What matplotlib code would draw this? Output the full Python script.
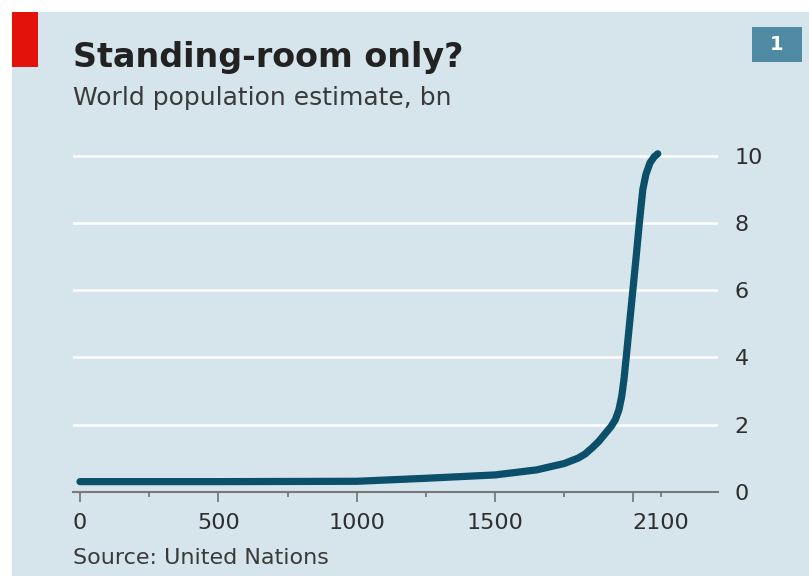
import matplotlib
matplotlib.use("Agg")
import matplotlib.pyplot as plt
from matplotlib.patches import Rectangle
from matplotlib.ticker import FixedLocator, FixedFormatter

# world population estimate, bn
years = [0, 500, 1000, 1250, 1500, 1650, 1750, 1800, 1825, 1850, 1875, 1900,
         1920, 1935, 1948, 1958, 1966, 1974, 1986, 1998, 2010, 2022, 2034,
         2045, 2060, 2075, 2088]
population = [0.3, 0.3, 0.31, 0.4, 0.5, 0.65, 0.84, 1.0, 1.12, 1.3, 1.5, 1.75,
              1.95, 2.15, 2.45, 2.85, 3.35, 4.0, 5.0, 6.0, 7.0, 8.05, 9.0,
              9.45, 9.8, 9.98, 10.07]

x_major = [0, 500, 1000, 1500, 2000]
x_major_labels = ["0", "500", "1000", "1500", ""]
x_minor = [250, 750, 1250, 1750, 2100]
x_minor_labels = ["", "", "", "", "2100"]
y_ticks = [0, 2, 4, 6, 8, 10]

title = "Standing-room only?"
subtitle = "World population estimate, bn"
source = "Source: United Nations"
chart_no = "1"

PANEL = "#d6e4eb"
LINE = "#0b4f6b"
TEXT = "#2e2e2e"

W, H = 809, 576
fig = plt.figure(figsize=(W / 100, H / 100), dpi=100)
fig.patch.set_facecolor("white")

# light blue panel, red flag, number box
fig.patches.append(Rectangle((12 / W, 0), 1, 1 - 12 / H, transform=fig.transFigure,
                             facecolor=PANEL, edgecolor="none", zorder=-2))
fig.patches.append(Rectangle((12 / W, 1 - 67 / H), 26 / W, 55 / H, transform=fig.transFigure,
                             facecolor="#e3120b", edgecolor="none", zorder=-1))
fig.patches.append(Rectangle((752 / W, 1 - 62 / H), 50 / W, 35 / H, transform=fig.transFigure,
                             facecolor="#4e8aa1", edgecolor="none", zorder=-1))
fig.text(777 / W, 1 - 44.5 / H, chart_no, color="white", fontsize=14, fontweight="bold",
         ha="center", va="center")

fig.text(73 / W, 1 - 67 / H, title, fontsize=24, fontweight="bold", color="#222222",
         ha="left", va="baseline")
fig.text(73 / W, 1 - 105 / H, subtitle, fontsize=18, color="#3a3a3a",
         ha="left", va="baseline")
fig.text(73 / W, 1 - 564 / H, source, fontsize=16, color="#3a3a3a",
         ha="left", va="baseline")

ax = fig.add_axes([73 / W, 1 - 491.7 / H, 645 / W, 355.7 / H])
ax.set_zorder(2)
ax.set_facecolor("none")
ax.plot(years, population, color=LINE, lw=5.2, solid_capstyle="round",
        solid_joinstyle="round", zorder=3)

ax.set_xlim(-25.3, 2305.8)
ax.set_ylim(0, 10.6)

for s in ("left", "right", "top"):
    ax.spines[s].set_visible(False)
ax.spines["bottom"].set_color("#7a7a7a")
ax.spines["bottom"].set_linewidth(1.5)

ax.yaxis.tick_right()
ax.set_yticks(y_ticks)
ax.set_yticklabels([str(v) for v in y_ticks])
ax.tick_params(axis="y", length=0, pad=12, labelsize=16, labelcolor=TEXT)
for v in y_ticks[1:]:
    ax.axhline(v, color="white", lw=1.8, zorder=1)

ax.xaxis.set_major_locator(FixedLocator(x_major))
ax.xaxis.set_major_formatter(FixedFormatter(x_major_labels))
ax.xaxis.set_minor_locator(FixedLocator(x_minor))
ax.xaxis.set_minor_formatter(FixedFormatter(x_minor_labels))
ax.tick_params(axis="x", which="major", length=7.2, width=1.3, color="#7a7a7a",
               pad=8, labelsize=16, labelcolor=TEXT)
ax.tick_params(axis="x", which="minor", length=3.4, width=1.3, color="#7a7a7a",
               pad=11.8, labelsize=16, labelcolor=TEXT)

fig.savefig("out.png", dpi=100, facecolor=fig.get_facecolor())
